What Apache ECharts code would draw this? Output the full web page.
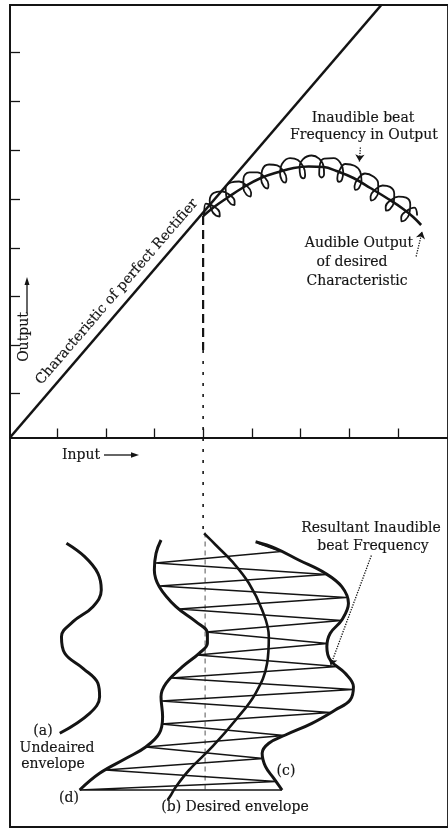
<!DOCTYPE html>
<html>
<head>
<meta charset="utf-8">
<script src="https://cdn.jsdelivr.net/npm/echarts@6/dist/echarts.min.js"></script>
<style>
html,body{margin:0;padding:0;background:#fff;}
#chart{width:448px;height:829px;}
</style>
</head>
<body>
<div id="chart"></div>
<script>
// Abstract units: input (x) and output (y); y below zero is the lower (envelope) diagram.
var xTicks = [47.7, 96.7, 145, 194, 243.3, 291.7, 340.7, 390];
var yTicks = [44.2, 92.5, 141.5, 189.2, 238.5, 287.5, 336.5, 385.2];

var rectifierLine = [[0, 0], [373, 432.5]];

var audibleOutput = [[194,221.5],[205,230.5],[218,239.5],[235,250.5],[252,259.5],[270,265.5],[285,269.5],[300,271],[315,270.5],[328,266.5],[345,259.5],[362,249.5],[380,238.5],[395,228.5],[405,220.5],[413,212.5]];

var inaudibleBeat = [[195,222],
 [196.7,233.8],[205.2,230.7],[210.5,225.0],[210.7,221.0],[206.8,221.9],[202.1,228.1],[200.6,237.0],
 [204.5,244.4],[212.5,246.2],[220.7,242.6],[225.6,236.5],[225.6,232.5],[221.7,233.7],[217.5,240.2],[216.6,249.2],
 [222,255.0],[230.1,256.0],[237.9,251.5],[242.2,245.0],[241.7,241.0],[237.9,242.5],[234.4,249.5],[234.5,258.5],
 [240.5,265.1],[248.6,265.1],[256.0,259.9],[259.6,253.0],[258.6,249.0],[255.1,251.0],[252.3,258.3],[253.3,267.2],
 [260.3,273.0],[268.4,272.1],[275.0,266.0],[277.7,258.7],[276.3,254.9],[273.0,257.3],[271.2,264.8],[273.2,273.6],
 [281.3,279.4],[289.2,277.4],[294.9,270.4],[296.5,262.8],[294.6,259.2],[291.7,262.0],[290.9,269.8],[294.2,278.2],
 [303,282],[310.5,278.8],[315,271],[315.5,263.2],[313,260],[310.6,263.2],[311,271],[315.6,278.8],
 [325.3,279.3],[331.9,274.6],[334.7,266.0],[333.6,258.3],[330.5,255.7],[328.8,259.3],[330.8,266.8],[336.9,273.5],
 [346.1,271.7],[351.8,265.9],[353.1,257.0],[350.6,249.6],[347.1,247.6],[346.1,251.5],[349.4,258.5],[356.6,264.0],
 [365.0,261.0],[369.8,254.5],[369.9,245.5],[366.4,238.5],[362.7,237.0],[362.2,241.0],[366.4,247.5],[374.3,252.0],
 [381.7,250.6],[386.0,243.8],[385.5,234.8],[381.5,228.1],[377.6,226.8],[377.4,230.8],[382.1,237.0],[390.3,240.9],
 [398.0,239.9],[402.1,232.9],[401.2,223.9],[397.0,217.4],[393.1,216.2],[393.0,220.3],[398.0,226.3],[406.2,229.9],
 [409,222]];

var projectionUpper = [[194,221.5],[194,87.5]];
var projectionLower = [[194,87.5],[194,-95]];
var envelopeAxis = [[196,-95],[196,-352.5]];

var undesiredEnvelope = [[56.7,-105.8],[75,-119.2],[88.3,-135.8],[91.7,-152.5],[83.3,-169.2],[63.3,-184.2],[51.7,-199.2],[55,-215.8],[73.3,-230.8],[88.3,-245.8],[90,-259.2],[80,-275.8],[50,-295.8]];

var leftEnvelope = [[151.7,-102.5],[146.7,-115.8],[145,-132.5],[150,-149.2],[166.7,-169.2],[186.7,-184.2],[198.3,-195.8],[198.3,-205.8],[190,-215.8],[173.3,-229.2],[156.7,-245.8],[151.7,-259.2],[153.3,-279.2],[150,-295.8],[136.7,-309.2],[116.7,-320.8],[90,-335.8],[70,-352.5]];

var rightEnvelope = [[246.7,-104.2],[266.7,-110.8],[290,-122.5],[316.7,-135.8],[333.3,-149.2],[340,-165.8],[333.3,-182.5],[321.7,-195.8],[318.3,-209.2],[321.7,-222.5],[336.7,-235.8],[345,-249.2],[341.7,-262.5],[326.7,-272.5],[303.3,-285.8],[276.7,-297.5],[260,-305.8],[253.3,-315.8],[256.7,-329.2],[265,-340.8],[273.3,-352.5]];

var beatZigzag = [[250,-106],[272,-114],[146,-125.5],[318,-137],[150,-148.5],[337.6,-160],[169.8,-171.5],[333,-183],[197,-194.5],[319,-206],[188,-217.5],[329,-229],[162,-240.5],[344.3,-252],[152,-263.5],[322,-275],[151.8,-286.5],[275.7,-298],[136.3,-309.5],[254.6,-321],[95.9,-332.5],[267.3,-344],[70,-352.5],[273.3,-352.5]];

var desiredEnvelope = [[195,-95.8],[206.7,-107.5],[223.3,-124.2],[240,-145.8],[253.3,-172.5],[260,-199.2],[258.3,-225.8],[246.7,-255.8],[226.7,-282.5],[203.3,-309.2],[180,-332.5],[166.7,-349.2],[161.7,-357.5],[158.3,-362.5]];

var inaudibleLeader = [[352,290],[351,276]];
var audibleLeader = [[408,181],[414,206]];
var resultantLeader = [[363,-118],[322,-228]];

var INK = '#141414';
var FONT = '14px "DejaVu Serif"';

function lineSeries(data, width, extra) {
  var s = {type:'line', data:data, showSymbol:false, symbol:'none', silent:true, animation:false,
    lineStyle:{color:INK, width:width}, z:3};
  if (extra) { for (var k in extra) s[k] = extra[k]; }
  return s;
}
function leader(pair, curv) {
  return [{coord:pair[0], lineStyle:{curveness:curv}}, {coord:pair[1]}];
}
function txt(s, x, y, align, rot) {
  return {type:'text', x:x, y:y, rotation:rot || 0, silent:true, z:10,
    style:{text:s, font:FONT, fill:INK, stroke:INK, lineWidth:0.15, textAlign:align || 'center', textVerticalAlign:'middle'}};
}

var texts = [
  ['Inaudible beat', 363, 118], ['Frequency in Output', 364, 135],
  ['Audible Output', 359, 243], ['of desired', 352, 262], ['Characteristic', 357, 281],
  ['Resultant Inaudible', 371, 528], ['beat Frequency', 373, 546],
  ['(a)', 43, 731], ['Undeaired', 57, 748], ['envelope', 53, 764],
  ['(d)', 69, 798], ['(c)', 286, 771], ['(b) Desired envelope', 235, 807]
];
var graphics = texts.map(function (t) { return txt(t[0], t[1], t[2]); });
graphics.push(txt('Characteristic of perfect Rectifier', 117, 292, 'center', 49.2 * Math.PI / 180));
graphics.push(txt('Output', 24, 337, 'center', Math.PI / 2));
graphics.push({type:'line', silent:true, z:10, shape:{x1:27, y1:313, x2:27, y2:281}, style:{stroke:INK, lineWidth:1.3}});
graphics.push({type:'polygon', silent:true, z:10, shape:{points:[[27,277],[24.5,285],[29.5,285]]}, style:{fill:INK}});
graphics.push(txt('Input', 62, 455, 'left'));
graphics.push({type:'line', silent:true, z:10, shape:{x1:104, y1:455, x2:134, y2:455}, style:{stroke:INK, lineWidth:1.3}});
graphics.push({type:'polygon', silent:true, z:10, shape:{points:[[139,455],[131,452.3],[131,457.7]]}, style:{fill:INK}});

var chart = echarts.init(document.getElementById('chart'), null, {renderer:'canvas'});
chart.setOption({
  animation:false,
  backgroundColor:'#ffffff',
  grid:{left:10, top:5, right:-2, bottom:2, show:true, borderColor:INK, borderWidth:1.8, backgroundColor:'transparent'},
  xAxis:{type:'value', min:0, max:440,
    axisLine:{show:true, onZero:true, lineStyle:{color:INK, width:1.8}},
    axisTick:{show:true, inside:true, length:9, customValues:xTicks, lineStyle:{color:INK, width:1.3}},
    axisLabel:{show:false}, splitLine:{show:false}},
  yAxis:{type:'value', min:-389.5, max:432.5,
    axisLine:{show:true, onZero:false, lineStyle:{color:INK, width:1.8}},
    axisTick:{show:true, inside:true, length:10, customValues:yTicks, lineStyle:{color:INK, width:1.3}},
    axisLabel:{show:false}, splitLine:{show:false}},
  graphic:graphics,
  series:[
    lineSeries(rectifierLine, 2.6),
    lineSeries(audibleOutput, 2.6, {smooth:0.4,
      markLine:{silent:true, animation:false, symbol:['none','arrow'], symbolSize:7, label:{show:false},
        lineStyle:{type:'dotted', color:INK, width:1.3},
        data:[leader(inaudibleLeader, 0.2), leader(audibleLeader, -0.3), leader(resultantLeader, 0.25)]}}),
    lineSeries(inaudibleBeat, 1.8, {smooth:0.45}),
    lineSeries(projectionUpper, 2.2, {lineStyle:{color:INK, width:2.2, type:[9,5]}}),
    lineSeries(projectionLower, 1.6, {lineStyle:{color:INK, width:1.6, type:[3,8]}}),
    lineSeries(envelopeAxis, 1, {lineStyle:{color:'#555', width:1, type:[5,4]}}),
    lineSeries(undesiredEnvelope, 3, {smooth:0.4}),
    lineSeries(leftEnvelope, 3, {smooth:0.4}),
    lineSeries(rightEnvelope, 3, {smooth:0.4}),
    lineSeries(beatZigzag, 1.4),
    lineSeries(desiredEnvelope, 2.6, {smooth:0.4})
  ]
});
</script>
</body>
</html>
